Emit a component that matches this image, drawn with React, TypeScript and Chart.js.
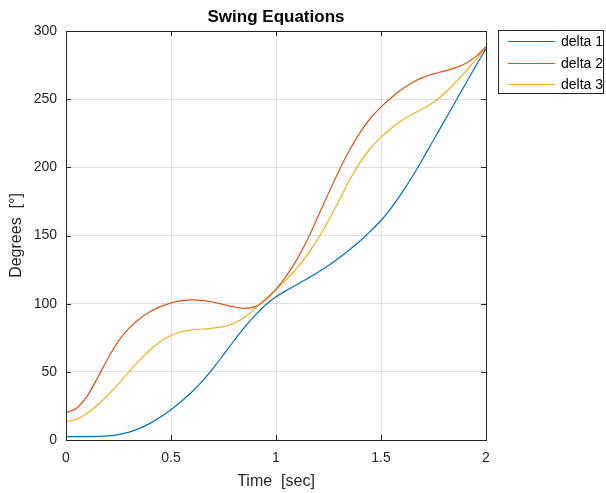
import React, { useEffect, useRef } from "react";
import { Chart, registerables } from "chart.js";

Chart.register(...registerables);

const timeSec = [0, 0.05, 0.1, 0.15, 0.2, 0.25, 0.3, 0.35, 0.4, 0.45, 0.5, 0.55, 0.6, 0.65, 0.7, 0.75, 0.8, 0.85, 0.9, 0.95, 1.0, 1.05, 1.1, 1.15, 1.2, 1.25, 1.3, 1.35, 1.4, 1.45, 1.5, 1.55, 1.6, 1.65, 1.7, 1.75, 1.8, 1.85, 1.9, 1.95, 2.0];
const delta1 = [2.5, 2.5, 2.5, 2.6, 3.0, 4.0, 5.8, 8.5, 12.2, 16.8, 22.2, 28.4, 35.4, 43.4, 52.6, 62.6, 72.8, 82.6, 91.4, 99.0, 105.0, 109.8, 114.0, 118.4, 123.0, 128.0, 133.5, 139.5, 146.0, 153.2, 161.0, 170.5, 181.5, 193.5, 206.5, 220.0, 233.5, 247.0, 260.5, 274.0, 287.0];
const delta2 = [20, 23.3, 32, 45.5, 60, 72.5, 82, 88.8, 94, 97.8, 100.6, 102.2, 102.8, 102.4, 101.2, 99.4, 97.6, 96.6, 97.8, 102.8, 110.5, 120.5, 132.5, 147, 164, 181, 197.5, 212.5, 225.5, 236, 244.2, 251.2, 257.2, 262.2, 266, 268.6, 270.6, 272.8, 276, 281, 288.5];
const delta3 = [13.5, 15.2, 19.6, 25.7, 33, 41.2, 50, 58.6, 66, 72.2, 76.6, 79.4, 80.8, 81.4, 82, 83.2, 85.6, 90, 96.4, 103.4, 110.3, 117.8, 126, 136, 147.6, 161, 175.5, 190.5, 203.5, 214, 222, 228.8, 234.5, 239, 243, 247.8, 254, 261.5, 269.8, 278.6, 288];

const seriesLabels = ["delta 1", "delta 2", "delta 3"];
const seriesColors = ["#0072BD", "#D95319", "#EDB120"];
const xTickValues = [0, 0.5, 1, 1.5, 2];
const yTickValues = [0, 50, 100, 150, 200, 250, 300];
const chartTitle = "Swing Equations";
const xTitle = "Time  [sec]";
const yTitle = "Degrees  [°]";

const FONT = 'Arial, "Liberation Sans", Helvetica, sans-serif';
const AXIS_COLOR = "#262626";

const matlabPlugin = {
  id: "matlabDecor",
  afterDraw(chart: any) {
    const ctx = chart.ctx as CanvasRenderingContext2D;
    const { left, right, top, bottom } = chart.chartArea;
    const xs = chart.scales.x;
    const ys = chart.scales.y;
    ctx.save();
    ctx.strokeStyle = AXIS_COLOR;
    ctx.lineWidth = 1;
    ctx.strokeRect(Math.round(left) + 0.5, Math.round(top) + 0.5, Math.round(right - left), Math.round(bottom - top));
    const tl = 5;
    ctx.beginPath();
    xTickValues.forEach((v) => {
      const px = Math.round(xs.getPixelForValue(v)) + 0.5;
      ctx.moveTo(px, bottom);
      ctx.lineTo(px, bottom - tl);
      ctx.moveTo(px, top);
      ctx.lineTo(px, top + tl);
    });
    yTickValues.forEach((v) => {
      const py = Math.round(ys.getPixelForValue(v)) + 0.5;
      ctx.moveTo(left, py);
      ctx.lineTo(left + tl, py);
      ctx.moveTo(right, py);
      ctx.lineTo(right - tl, py);
    });
    ctx.stroke();

    ctx.fillStyle = "#000000";
    ctx.font = `bold 17px ${FONT}`;
    ctx.textAlign = "center";
    ctx.textBaseline = "middle";
    ctx.fillText(chartTitle, (left + right) / 2, 17);

    ctx.fillStyle = AXIS_COLOR;
    ctx.font = `16px ${FONT}`;
    ctx.fillText(xTitle, (left + right) / 2, 482);
    ctx.save();
    ctx.translate(17, (top + bottom) / 2);
    ctx.rotate(-Math.PI / 2);
    ctx.fillText(yTitle, 0, 0);
    ctx.restore();

    const bx = 498.5, by = 30.5, bw = 105, bh = 63;
    ctx.fillStyle = "#ffffff";
    ctx.fillRect(bx, by, bw, bh);
    ctx.strokeStyle = AXIS_COLOR;
    ctx.lineWidth = 1;
    ctx.strokeRect(bx, by, bw, bh);
    ctx.font = `14px ${FONT}`;
    ctx.textAlign = "left";
    ctx.textBaseline = "middle";
    seriesLabels.forEach((lab, i) => {
      const ly = 41 + i * 21.7;
      ctx.strokeStyle = seriesColors[i];
      ctx.beginPath();
      ctx.moveTo(508, Math.round(ly) + 0.5);
      ctx.lineTo(555, Math.round(ly) + 0.5);
      ctx.stroke();
      ctx.fillStyle = "#000000";
      ctx.fillText(lab, 561, ly + 1);
    });
    ctx.restore();
  },
};

export default function App() {
  const canvasRef = useRef<HTMLCanvasElement | null>(null);

  useEffect(() => {
    if (!canvasRef.current) return;
    const seriesValues = [delta1, delta2, delta3];
    const chart = new Chart(canvasRef.current, {
      type: "line",
      data: {
        datasets: seriesValues.map((vals, i) => ({
          label: seriesLabels[i],
          data: timeSec.map((t, j) => ({ x: t, y: vals[j] })),
          borderColor: seriesColors[i],
          backgroundColor: seriesColors[i],
          borderWidth: 1.2,
          pointRadius: 0,
          tension: 0.35,
          fill: false,
        })),
      },
      options: {
        responsive: false,
        animation: false,
        devicePixelRatio: 1,
        layout: { padding: { left: 0, top: 31, right: 120, bottom: 0 } },
        plugins: {
          legend: { display: false },
          title: { display: false },
          tooltip: { enabled: false },
        },
        scales: {
          x: {
            type: "linear",
            min: 0,
            max: 2,
            afterFit: (s: any) => {
              s.height = 53;
            },
            afterBuildTicks: (s: any) => {
              s.ticks = xTickValues.map((v) => ({ value: v }));
            },
            ticks: {
              color: AXIS_COLOR,
              font: { family: FONT, size: 14 },
              padding: 10,
              maxRotation: 0,
              autoSkip: false,
              callback: (v: any) => String(v),
            },
            grid: { color: "rgba(38,38,38,0.15)", drawTicks: false, lineWidth: 1 },
            border: { display: false },
          },
          y: {
            type: "linear",
            min: 0,
            max: 300,
            afterFit: (s: any) => {
              s.width = 66;
            },
            afterBuildTicks: (s: any) => {
              s.ticks = yTickValues.map((v) => ({ value: v }));
            },
            ticks: {
              color: AXIS_COLOR,
              font: { family: FONT, size: 14 },
              padding: 9,
              autoSkip: false,
              callback: (v: any) => String(v),
            },
            grid: { color: "rgba(38,38,38,0.15)", drawTicks: false, lineWidth: 1 },
            border: { display: false },
          },
        },
      },
      plugins: [matlabPlugin],
    });
    return () => chart.destroy();
  }, []);

  return (
    <div style={{ position: "fixed", left: 0, top: 0, width: 606, height: 493, background: "#ffffff" }}>
      <canvas ref={canvasRef} width={606} height={493} style={{ display: "block", width: 606, height: 493 }} />
    </div>
  );
}
